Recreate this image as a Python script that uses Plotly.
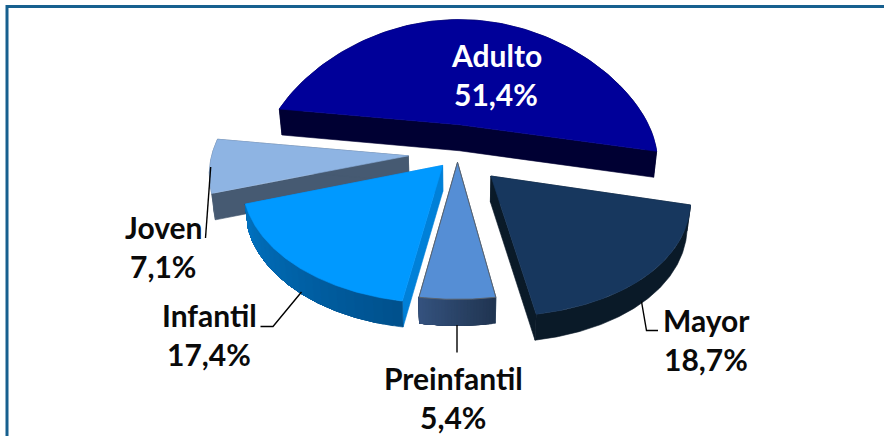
import numpy as np
import plotly.graph_objects as go

# ---- data ----
categories = ["Adulto", "Mayor", "Preinfantil", "Infantil", "Joven"]
values = [51.4, 18.7, 5.4, 17.4, 7.1]
start_angle = -172.06  # clockwise screen degrees, Adulto's first edge

# ---- styles ----
top_colors = {"Adulto": "#000099", "Mayor": "#17375E", "Preinfantil": "#558ED5",
              "Infantil": "#0099FF", "Joven": "#8EB4E3"}
arc_colors = {"Adulto": ("#000033", "#000033"), "Mayor": ("#0A1A28", "#0A1A28"),
              "Preinfantil": ("#203450", "#34527E"), "Infantil": ("#00508C", "#0072C0"),
              "Joven": ("#465A72", "#465A72")}
radial_colors = {"Adulto": "#000033", "Mayor": "#0A1A28", "Preinfantil": "#2A4468",
                 "Infantil": "#0080D8", "Joven": "#465A72"}
label_colors = {"Adulto": "white"}
outline = {"Preinfantil": "#5A6470"}
draw_order = ["Adulto", "Joven", "Mayor", "Preinfantil", "Infantil"]

# ---- projection (pseudo 3D perspective of an exploded pie) ----
CX, CY, B, Q, DEPTH, SHRINK = 457.5, 137.0, 118.0, 0.1, 26.0, 0.985
geom = {  # explosion offset (dU, dV), width A, perspective P
    "Adulto": (0.01, -0.105, 195, 0.30),
    "Mayor": (0.17, 0.32, 187, 0.15),
    "Preinfantil": (0.0, 0.21, 195, 0.12),
    "Infantil": (-0.075, 0.235, 193, 0.12),
    "Joven": (-0.25, 0.157, 193, 0.12),
}
label_pos = {"Adulto": (496, 54.5), "Mayor": (706, 319.5), "Preinfantil": (453, 377.5),
             "Infantil": (209, 314.5), "Joven": (163, 226.5)}
LINE_GAP = 39.5
leaders = {
    "Joven": [(210.7, 167), (205.5, 238)],
    "Infantil": [(301.5, 292), (273, 326.5), (260.5, 326.5)],
    "Preinfantil": [(457, 325), (457, 352.5)],
    "Mayor": [(641.5, 301.5), (646.5, 330.5), (658, 330.5)],
}


def project(name, u, v):
    dU, dV, A, P = geom[name]
    U, V = dU + np.asarray(u), dV + np.asarray(v)
    return CX + A * U / (1 - P * V), CY + B * V / (1 - Q * V)


def lower(x, y):
    return CX + (x - CX) * SHRINK, y + DEPTH


def mix(c1, c2, t):
    a = [int(c1[i:i + 2], 16) for i in (1, 3, 5)]
    b = [int(c2[i:i + 2], 16) for i in (1, 3, 5)]
    return "#%02x%02x%02x" % tuple(round(p + (q - p) * t) for p, q in zip(a, b))


def poly(fig, xs, ys, fill, line=None, width=0.6):
    fig.add_trace(go.Scatter(x=list(xs), y=list(ys), mode="lines", fill="toself",
                             fillcolor=fill, line=dict(color=line or fill, width=width),
                             hoverinfo="skip", showlegend=False))


# slice angle spans from the values
fractions = np.array(values) / sum(values)
edges = start_angle + np.concatenate([[0], np.cumsum(fractions)]) * 360
spans = {c: (edges[i], edges[i + 1]) for i, c in enumerate(categories)}

fig = go.Figure()
SEGMENTS = 24
for name in draw_order:
    a0, a1 = spans[name]
    th = np.radians(np.linspace(a0, a1, 121))
    ax, ay = project(name, 0.0, 0.0)
    ax, ay = float(ax), float(ay)
    bx, by = lower(ax, ay)
    xa, ya = project(name, np.cos(th), np.sin(th))
    xb, yb = lower(xa, ya)
    # radial walls: a slice wider than a half is one band, so no seam at the apex;
    # narrower slices get two quads, since their extruded arms overlap
    if a1 - a0 > 180:
        poly(fig, [xa[0], ax, xa[-1], xb[-1], bx, xb[0], xa[0]],
             [ya[0], ay, ya[-1], yb[-1], by, yb[0], ya[0]], radial_colors[name])
    else:
        for i in (0, -1):
            poly(fig, [ax, xa[i], xb[i], bx, ax], [ay, ya[i], yb[i], by, ay], radial_colors[name])
    # outer wall: each step runs to the arc's end and the next paints over it, so no seams
    c0, c1 = arc_colors[name]
    steps = 1 if c0 == c1 else SEGMENTS
    idx = np.linspace(0, 120, steps + 1).astype(int)
    for k in range(steps):
        i = idx[k]
        poly(fig, np.r_[xa[i:], xb[i:][::-1], xa[i]], np.r_[ya[i:], yb[i:][::-1], ya[i]],
             mix(c0, c1, (k + 0.5) / steps))
    # top face
    poly(fig, np.r_[ax, xa, ax], np.r_[ay, ya, ay], top_colors[name],
         outline.get(name), 1.0 if name in outline else 0.6)

# leader lines
for pts in leaders.values():
    fig.add_trace(go.Scatter(x=[p[0] for p in pts], y=[p[1] for p in pts], mode="lines",
                             line=dict(color="#000000", width=1.4), hoverinfo="skip",
                             showlegend=False))

# labels
for name, val in zip(categories, values):
    lx, ly = label_pos[name]
    col = label_colors.get(name, "#0A0A0A")
    for text, yy in ((name, ly), (f"{val:.1f}".replace(".", ",") + "%", ly + LINE_GAP)):
        fig.add_annotation(x=lx, y=yy, text=f"<b>{text}</b>", showarrow=False,
                           xanchor="center", yanchor="middle",
                           font=dict(family="Lato", size=30, color=col))

# frame
fig.add_shape(type="line", x0=7, x1=884, y0=6.5, y1=6.5, line=dict(color="#17608F", width=3))
fig.add_shape(type="line", x0=7, x1=7, y0=5, y1=436, line=dict(color="#17608F", width=3))

fig.update_layout(
    width=884, height=436, margin=dict(l=0, r=0, t=0, b=0), autosize=False,
    paper_bgcolor="white", plot_bgcolor="white", showlegend=False,
    xaxis=dict(range=[0, 884], visible=False, fixedrange=True),
    yaxis=dict(range=[436, 0], visible=False, fixedrange=True),
)
fig.write_html("out.html", config={"displayModeBar": False},
               post_script="document.body.style.margin='0';")
